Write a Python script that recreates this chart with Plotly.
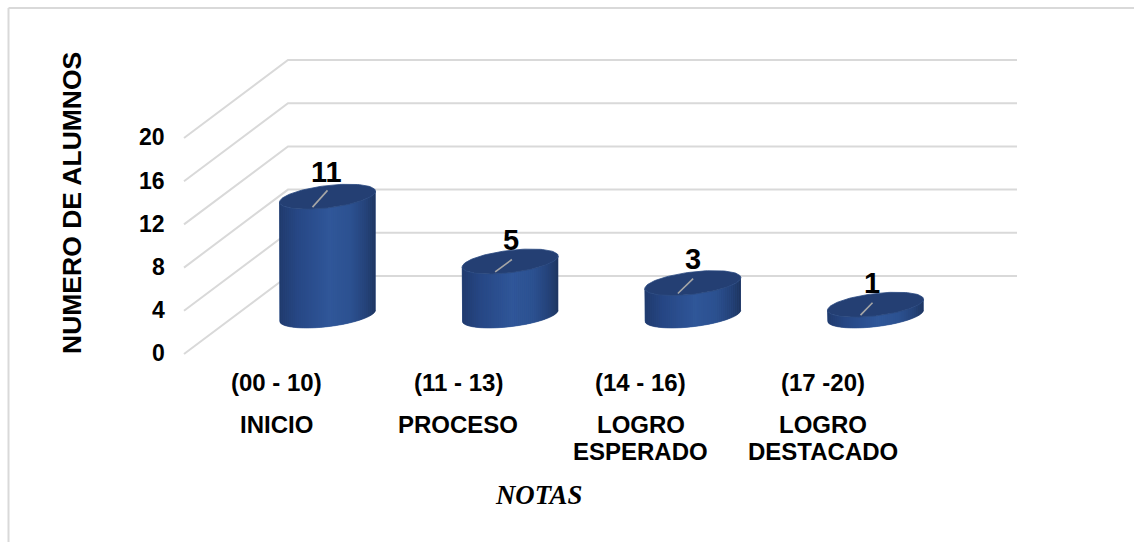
import numpy as np
import plotly.graph_objects as go

# ---- data ----
ranges = ["(00 - 10)", "(11 - 13)", "(14 - 16)", "(17 -20)"]
levels = [["INICIO"], ["PROCESO"], ["LOGRO", "ESPERADO"], ["LOGRO", "DESTACADO"]]
alumnos = [11, 5, 3, 1]
y_ticks = [0, 4, 8, 12, 16, 20]
x_title = "NOTAS"
y_title = "NUMERO DE ALUMNOS"

# ---- projection of the fake 3D box (pixel scale of the canvas) ----
W, H = 1134, 542
CAT_STEP = 182.67      # px per category
UNIT = 10.8            # px per student
CAT0_PX, BASE_PX = 327.5, 315.5
GREY = "#d9d9d9"


def xd(px_offset, cat=0.0):
    return cat + px_offset / CAT_STEP


def yd(px_offset, value=0.0):
    return value - px_offset / UNIT


FRONT_DX, FRONT_DY = 184 - CAT0_PX, 354 - BASE_PX
WALL_DX, WALL_DY = 288 - CAT0_PX, 276 - BASE_PX
WALL_END_DX = 1017 - CAT0_PX

# cylinder cross-section
A, K, B = 48.0, 5.5, 11.2
STOPS = [(0, (32, 58, 108)), (0.18, (38, 70, 131)), (0.52, (48, 87, 153)),
         (0.74, (44, 81, 144)), (0.9, (36, 66, 120)), (1, (30, 53, 96))]
TOP_COLOR = "#243f73"


def shade(f):
    xs = [s[0] for s in STOPS]
    c = [np.interp(f, xs, [s[1][i] for s in STOPS]) for i in range(3)]
    return "rgb(%d,%d,%d)" % tuple(int(round(v)) for v in c)


fig = go.Figure()

# grid: oblique floor/side part + back wall part
for v in y_ticks:
    fig.add_trace(go.Scatter(
        x=[xd(FRONT_DX), xd(WALL_DX), xd(WALL_END_DX)],
        y=[yd(FRONT_DY, v), yd(WALL_DY, v), yd(WALL_DY, v)],
        mode="lines", line=dict(color=GREY, width=2), hoverinfo="skip"))

LEADER_END = [(0, -6.3), (1.7, -2), (0.3, -4.5), (-3, -2)]
LABEL_DY = [-25, -22, -24.5, -22]
LABEL_DX = [-1.5, 0.5, 0.5, -3.5]

for i, val in enumerate(alumnos):
    t = np.linspace(0, np.pi, 73)
    ex = A * np.cos(t)
    ey = -K * np.cos(t) + B * np.sin(t)
    # silhouette first
    fig.add_trace(go.Scatter(
        x=np.r_[xd(ex, i), xd(ex[::-1], i)],
        y=np.r_[yd(ey, val), yd(ey[::-1], 0)],
        mode="lines", fill="toself", fillcolor=shade(0.5),
        line=dict(width=0), hoverinfo="skip"))
    # shaded strips
    N = 48
    edges = np.linspace(A, -A, N + 1)
    for j in range(N):
        t0, t1 = np.arccos(edges[j] / A), np.arccos(edges[j + 1] / A)
        ts = np.linspace(t0, t1, 3)
        sx = A * np.cos(ts)
        sy = -K * np.cos(ts) + B * np.sin(ts)
        f = (sx.mean() + A) / (2 * A)
        fig.add_trace(go.Scatter(
            x=np.r_[xd(sx, i), xd(sx[::-1], i)],
            y=np.r_[yd(sy, val), yd(sy[::-1], 0)],
            mode="lines", fill="toself", fillcolor=shade(f),
            line=dict(width=0.6, color=shade(f)), hoverinfo="skip"))
    # top ellipse
    t = np.linspace(0, 2 * np.pi, 121)
    fig.add_trace(go.Scatter(
        x=xd(A * np.cos(t), i),
        y=yd(-K * np.cos(t) + B * np.sin(t), val),
        mode="lines", fill="toself", fillcolor=TOP_COLOR,
        line=dict(width=0.8, color="#2b4a82"), hoverinfo="skip"))
    # leader line
    ex_, ey_ = LEADER_END[i]
    fig.add_trace(go.Scatter(
        x=[xd(-15, i), xd(ex_, i)],
        y=[yd(10.4, val), yd(ey_, val)],
        mode="lines", line=dict(color="#a6a6a6", width=1.6), hoverinfo="skip"))
    # value label
    fig.add_annotation(x=xd(LABEL_DX[i], i), y=yd(LABEL_DY[i], val), text=str(val), showarrow=False,
                       font=dict(family="Liberation Sans", size=29, color="black",
                                 weight="bold"),
                       xanchor="center", yanchor="middle")

BOLD = dict(family="Liberation Sans", color="black", weight="bold")

# y tick labels
for v in y_ticks:
    fig.add_annotation(x=xd(167 - CAT0_PX), y=yd(FRONT_DY - 0.7, v), text=str(v),
                       showarrow=False, xanchor="right", yanchor="middle",
                       font=dict(size=23, **BOLD))

# category labels
for i, (r, lines) in enumerate(zip(ranges, levels)):
    cx = xd(-51.5 - 0.4 * i, i)
    fig.add_annotation(x=cx, y=yd(382 - BASE_PX), text=r, showarrow=False,
                       xanchor="center", yanchor="middle", font=dict(size=24, **BOLD))
    for k, line in enumerate(lines):
        fig.add_annotation(x=cx, y=yd(424 + 27.5 * k - BASE_PX), text=line, showarrow=False,
                           xanchor="center", yanchor="middle", font=dict(size=24, **BOLD))

# axis titles
fig.add_annotation(x=xd(71.5 - CAT0_PX), y=yd(203.5 - BASE_PX), text=y_title, textangle=-90,
                   showarrow=False, xanchor="center", yanchor="middle",
                   font=dict(size=26.5, **BOLD))
fig.add_annotation(x=xd(538 - CAT0_PX), y=yd(495 - BASE_PX), text=x_title, showarrow=False,
                   xanchor="center", yanchor="middle",
                   font=dict(family="Liberation Serif", size=26.8, color="black",
                             weight="bold", style="italic"))

# outer frame (left and top only are on the canvas)
fig.add_shape(type="line", xref="paper", yref="paper", x0=8.5 / W, x1=1, y0=1 - 8 / H, y1=1 - 8 / H,
              line=dict(color=GREY, width=2))
fig.add_shape(type="line", xref="paper", yref="paper", x0=8.5 / W, x1=8.5 / W, y0=0, y1=1 - 8 / H,
              line=dict(color=GREY, width=2))

fig.update_layout(
    width=W, height=H, margin=dict(l=0, r=0, t=0, b=0), showlegend=False,
    paper_bgcolor="white", plot_bgcolor="white",
    xaxis=dict(visible=False, range=[-CAT0_PX / CAT_STEP, (W - CAT0_PX) / CAT_STEP], fixedrange=True),
    yaxis=dict(visible=False, range=[(BASE_PX - H) / UNIT, BASE_PX / UNIT], fixedrange=True),
)
fig.write_html("out.html", config=dict(displayModeBar=False),
               post_script="document.body.style.margin='0';document.body.style.overflow='hidden';")
